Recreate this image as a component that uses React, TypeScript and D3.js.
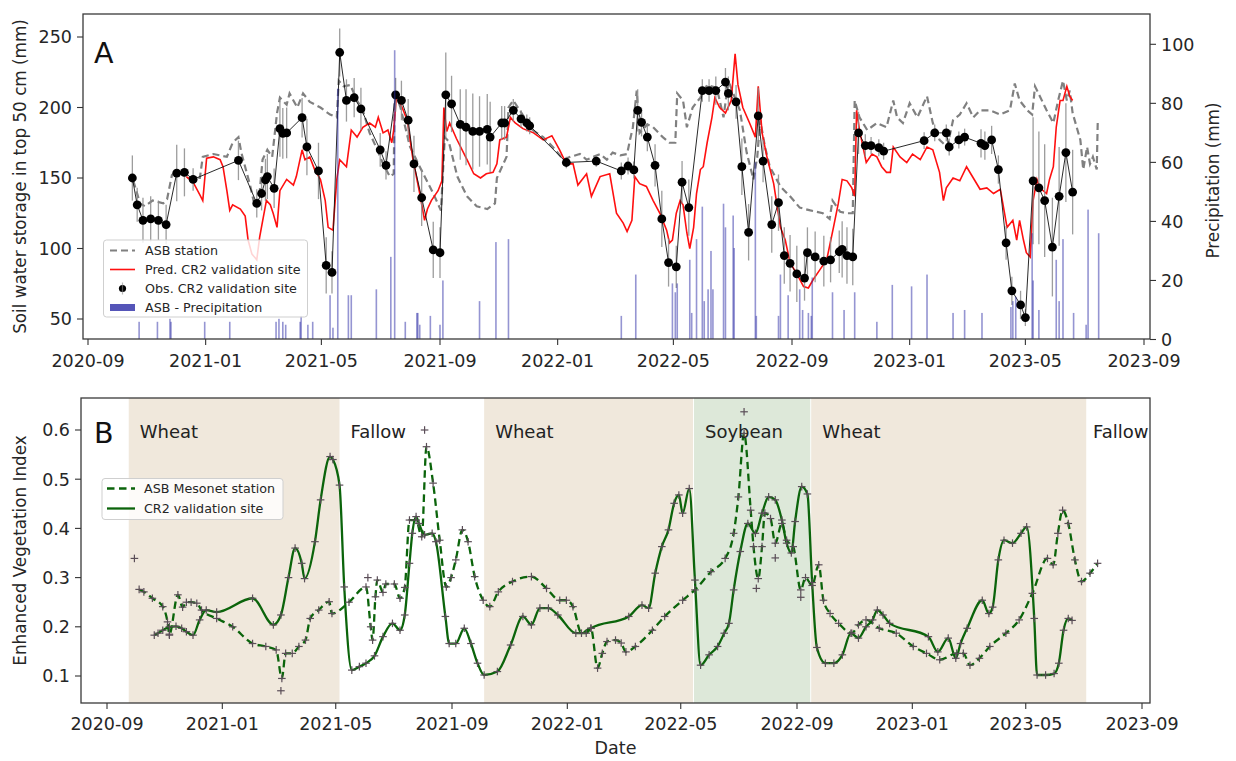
import React from "react";
import * as d3 from "d3";

const W = 1236;
const H = 761;
const FONT = "'DejaVu Sans', Verdana, sans-serif";

// ---------------- Panel A data ----------------
const asbDates = [
  "2020-10-18","2020-10-25","2020-10-30","2020-11-07","2020-11-18","2020-11-22","2020-11-27","2020-12-02","2020-12-13","2020-12-26",
  "2020-12-29","2021-01-09","2021-01-23","2021-01-29","2021-02-04","2021-02-07","2021-02-16","2021-02-21","2021-02-26","2021-03-01",
  "2021-03-06","2021-03-11","2021-03-16","2021-03-19","2021-03-26","2021-03-29","2021-04-06","2021-04-12","2021-04-19","2021-04-30",
  "2021-05-10","2021-05-17","2021-05-19","2021-05-24","2021-05-31","2021-06-07","2021-06-13","2021-06-20","2021-06-28","2021-07-04",
  "2021-07-11","2021-07-15","2021-07-16","2021-07-22","2021-08-01","2021-08-11","2021-08-25","2021-09-02","2021-09-06","2021-09-10",
  "2021-09-19","2021-09-29","2021-10-09","2021-10-20","2021-10-28","2021-10-30","2021-11-09","2021-11-11","2021-11-16","2021-12-06",
  "2021-12-17","2021-12-27","2022-01-07","2022-01-14","2022-01-24","2022-01-31","2022-02-14","2022-02-21","2022-02-27","2022-03-07",
  "2022-03-14","2022-03-17","2022-03-20","2022-03-24","2022-03-27","2022-04-04","2022-04-10","2022-04-20","2022-04-27","2022-05-03",
  "2022-05-05","2022-05-11","2022-05-15","2022-05-21","2022-05-29","2022-06-05","2022-06-15","2022-06-22","2022-06-27","2022-07-02",
  "2022-07-09","2022-07-16","2022-07-23","2022-07-27","2022-07-30","2022-08-04","2022-08-09","2022-08-20","2022-08-30","2022-09-09",
  "2022-09-20","2022-10-03","2022-10-10","2022-10-13","2022-10-21","2022-10-28","2022-11-03","2022-11-05","2022-11-10","2022-11-18",
  "2022-11-28","2022-12-08","2022-12-15","2022-12-19","2022-12-25","2023-01-01","2023-01-09","2023-01-19","2023-01-25","2023-02-01",
  "2023-02-09","2023-02-15","2023-02-22","2023-03-01","2023-03-08","2023-03-15","2023-03-25","2023-04-05","2023-04-15","2023-04-20",
  "2023-04-25","2023-05-03","2023-05-08","2023-05-11","2023-05-16","2023-05-23","2023-05-30","2023-06-04","2023-06-09","2023-06-13",
  "2023-06-16","2023-06-19","2023-06-27","2023-06-30","2023-07-04","2023-07-07","2023-07-10","2023-07-14","2023-07-15"
];
const asbSwc = [
  148,132,130,134,132,135,152,155,150,150,
  165,167,165,175,179,168,145,130,140,163,
  170,165,196,207,202,210,200,210,204,200,
  195,193,219,215,216,205,198,182,170,160,
  151,153,212,200,172,158,139,127,179,176,
  151,137,130,128,132,150,165,200,205,184,
  179,172,163,165,167,163,167,163,168,166,
  167,177,186,212,182,188,186,179,175,175,
  210,205,186,200,207,216,214,193,219,210,
  198,168,149,165,191,172,158,144,137,129,
  127,125,121,134,126,125,125,205,193,184,
  189,186,205,193,189,203,193,208,189,177,
  172,191,195,203,193,198,198,195,198,217,
  205,198,195,215,208,198,189,205,219,205,
  212,196,177,156,172,160,165,156,189
];

const predDates = [
  "2020-12-12","2020-12-19","2020-12-26","2020-12-29","2021-01-02","2021-01-09","2021-01-16","2021-01-19","2021-01-23","2021-01-26",
  "2021-01-29","2021-02-06","2021-02-11","2021-02-14","2021-02-18","2021-02-23","2021-02-26","2021-03-02","2021-03-05","2021-03-09",
  "2021-03-12","2021-03-16","2021-03-19","2021-03-26","2021-04-02","2021-04-05","2021-04-11","2021-04-14","2021-04-19","2021-04-24",
  "2021-04-30","2021-05-05","2021-05-08","2021-05-13","2021-05-17","2021-05-20","2021-05-27","2021-06-01","2021-06-07","2021-06-13",
  "2021-06-20","2021-06-26","2021-06-29","2021-07-04","2021-07-09","2021-07-13","2021-07-15","2021-07-18","2021-07-22","2021-07-29",
  "2021-08-04","2021-08-11","2021-08-16","2021-08-19","2021-08-23","2021-08-30","2021-09-03","2021-09-05","2021-09-08","2021-09-11",
  "2021-09-18","2021-09-29","2021-10-06","2021-10-13","2021-10-19","2021-10-26","2021-10-30","2021-11-02","2021-11-09","2021-11-13",
  "2021-11-18","2021-11-26","2021-12-07","2021-12-17","2021-12-26","2022-01-03","2022-01-10","2022-01-17","2022-01-22","2022-01-31",
  "2022-02-05","2022-02-14","2022-02-24","2022-03-03","2022-03-10","2022-03-14","2022-03-19","2022-03-22","2022-03-27","2022-04-03",
  "2022-04-10","2022-04-17","2022-04-24","2022-04-27","2022-04-30","2022-05-04","2022-05-08","2022-05-11","2022-05-15","2022-05-18",
  "2022-05-22","2022-05-25","2022-05-29","2022-06-01","2022-06-05","2022-06-10","2022-06-13","2022-06-18","2022-06-24","2022-06-30",
  "2022-07-04","2022-07-07","2022-07-12","2022-07-19","2022-07-25","2022-07-28","2022-08-01","2022-08-06","2022-08-13","2022-08-20",
  "2022-08-25","2022-08-30","2022-09-06","2022-09-13","2022-09-18","2022-09-23","2022-09-30","2022-10-07","2022-10-14","2022-10-19",
  "2022-10-23","2022-10-28","2022-11-02","2022-11-05","2022-11-07","2022-11-10","2022-11-17","2022-11-23","2022-11-28","2022-12-03",
  "2022-12-08","2022-12-12","2022-12-15","2022-12-22","2022-12-29","2023-01-04","2023-01-12","2023-01-19","2023-01-25","2023-02-01",
  "2023-02-05","2023-02-08","2023-02-15","2023-02-22","2023-03-01","2023-03-08","2023-03-15","2023-03-22","2023-03-29","2023-04-05",
  "2023-04-12","2023-04-18","2023-04-22","2023-04-25","2023-04-29","2023-05-02","2023-05-06","2023-05-09","2023-05-13","2023-05-16",
  "2023-05-23","2023-05-26","2023-05-30","2023-06-02","2023-06-06","2023-06-09","2023-06-13","2023-06-16","2023-06-19"
];
const predSwc = [
  151,147,138,134,164,165,163,158,141,127,
  131,128,123,106,96,92,108,123,134,131,
  125,115,141,149,145,151,170,163,165,156,
  149,134,115,113,149,163,158,184,179,186,
  189,186,193,182,184,175,184,210,203,191,
  163,139,120,128,134,141,148,200,183,189,
  178,163,153,150,153,154,160,177,179,193,
  189,185,182,177,180,170,160,160,145,153,
  137,151,153,125,118,112,120,151,146,144,
  134,125,113,104,106,125,134,131,111,100,
  115,139,156,158,175,193,207,200,196,205,
  238,216,200,189,179,215,182,165,146,115,
  106,90,82,73,72,78,85,92,115,132,
  149,148,143,137,198,184,161,167,165,158,
  154,154,172,165,161,167,163,172,170,154,
  134,143,150,148,158,150,142,143,139,142,
  115,120,106,120,106,97,94,134,149,143,
  139,149,158,186,205,205,215,208,205
];

const obsDates = [
  "2020-10-17","2020-10-22","2020-10-28","2020-11-05","2020-11-13","2020-11-21","2020-12-02","2020-12-10","2020-12-19","2021-02-04",
  "2021-02-23","2021-02-28","2021-03-04","2021-03-06","2021-03-13","2021-03-19","2021-03-22","2021-03-26","2021-04-11","2021-04-16",
  "2021-04-28","2021-05-06","2021-05-12","2021-05-20","2021-05-27","2021-06-04","2021-06-11","2021-07-01","2021-07-07","2021-07-17",
  "2021-07-23","2021-07-30","2021-08-05","2021-08-13","2021-08-25","2021-09-01","2021-09-07","2021-09-13","2021-09-22","2021-09-28",
  "2021-10-05","2021-10-12","2021-10-20","2021-10-23","2021-11-04","2021-11-07","2021-11-16","2021-11-24","2021-11-30","2021-12-03",
  "2022-01-10","2022-02-10","2022-03-08","2022-03-15","2022-03-21","2022-03-25","2022-03-29","2022-04-04","2022-04-12","2022-04-19",
  "2022-04-26","2022-05-04","2022-05-10","2022-05-17","2022-05-31","2022-06-07","2022-06-14","2022-06-24","2022-06-27","2022-07-05",
  "2022-07-11","2022-07-18","2022-07-28","2022-08-02","2022-08-11","2022-08-18","2022-08-24","2022-08-30","2022-09-06","2022-09-14",
  "2022-09-17","2022-09-25","2022-10-04","2022-10-11","2022-10-20","2022-10-23","2022-10-28","2022-11-03","2022-11-09","2022-11-16",
  "2022-11-22","2022-11-30","2022-12-05","2023-01-16","2023-01-27","2023-02-08","2023-02-11","2023-02-21","2023-02-27","2023-03-16",
  "2023-03-20","2023-03-27","2023-04-03","2023-04-11","2023-04-17","2023-04-26","2023-05-01","2023-05-09","2023-05-15","2023-05-21",
  "2023-05-29","2023-06-05","2023-06-12","2023-06-19"
];
const obsSwc = [
  150,131,120,121,120,117,153.5,154,149,162.5,
  132,139,148.6,151,142.7,185,181.7,182,192.8,172,
  155,88,83,239,205,207,199,170,159,209,
  205,191,160,136,99,97,209,202.5,188,186,
  183,183,184.5,179,189,189,198,192,189,187,
  161,162,155,158.5,155.7,198,189.5,179,159,121,
  90,87,147,129,212,212,212,218,210,204,
  158,111.5,194,162,117,132.5,95,89.5,82,79,
  97,94,91,92,97.7,99.4,95,94,182,173,
  173,171.5,169,176.5,182,182,172,177,179,174.6,
  173,177,156,104,70,60,51,148,143,134,
  101,137,168,140
];
const obsErr = [
  16,12,16,16,14,14,20,17,8,14,
  10,12,15,16,14,20,18,18,14,20,
  20,20,15,17,15,14,15,12,10,12,
  14,15,20,20,20,18,30,20,25,27,
  27,25,25,25,12,12,8,6,6,6,
  4,4,6,6,6,15,10,10,15,20,
  17,15,15,20,8,8,10,10,12,12,
  20,20,20,15,20,20,20,20,20,16,
  18,18,18,16,15,20,20,20,15,8,
  6,6,6,6,6,6,6,6,6,10,
  10,10,10,12,10,10,6,45,40,40,
  35,35,35,30
];

const precipDates = [
  "2020-10-24","2020-11-12","2020-11-25","2020-11-26","2020-12-31","2021-01-26","2021-03-15","2021-03-18","2021-03-22","2021-03-25",
  "2021-04-09","2021-04-10","2021-04-17","2021-04-22","2021-05-10","2021-05-13","2021-05-18","2021-05-29","2021-06-01","2021-06-27",
  "2021-07-12","2021-07-16","2021-07-27","2021-08-08","2021-08-09","2021-08-11","2021-08-22","2021-09-01","2021-09-04","2021-10-12",
  "2021-10-29","2021-11-11","2022-03-08","2022-03-23","2022-04-30","2022-05-03","2022-05-05","2022-05-18","2022-05-20","2022-05-25",
  "2022-05-31","2022-06-02","2022-06-06","2022-06-09","2022-06-11","2022-06-22","2022-06-24","2022-07-02","2022-07-03","2022-07-25",
  "2022-07-26","2022-08-18","2022-08-20","2022-08-28","2022-09-09","2022-09-12","2022-09-18","2022-09-21","2022-09-22","2022-10-13",
  "2022-10-25","2022-11-05","2022-11-28","2022-12-14","2023-01-03","2023-01-19","2023-02-15","2023-02-27","2023-03-17","2023-04-16",
  "2023-04-18","2023-04-21","2023-05-08","2023-05-09","2023-05-15","2023-06-02","2023-06-05","2023-06-09","2023-06-20","2023-07-03",
  "2023-07-05","2023-07-16"
];
const precipMm = [
  6,6,7,6,6,6,6,7,6,5,
  6,8,5,6,15,4,85,15,15,17,
  28,98,6,9,9,5,8,5,20,13,
  33,34,8,22,19,16,19,27,9,34,
  45,13,17,30,17,46,38,42,31,60,
  8,8,22,15,17,10,9,8,21,16,
  10,16,6,18.5,18,22,9,10,9,11,
  13,14.5,36,20,10,27,13,34,9,5,
  44,36
];

// ---------------- Panel B data ----------------
const cr2EviDates = [
  "2020-10-21","2020-10-25","2020-10-30","2020-11-06","2020-11-13","2020-11-19","2020-11-24","2020-12-01","2020-12-08","2020-12-15",
  "2020-12-26","2021-02-02","2021-02-24","2021-03-04","2021-03-12","2021-03-19","2021-03-26","2021-03-29","2021-04-09","2021-04-15",
  "2021-04-25","2021-04-28","2021-05-05","2021-05-10","2021-05-18","2021-05-26","2021-06-02","2021-06-11","2021-06-20","2021-06-30",
  "2021-07-08","2021-07-13","2021-07-18","2021-07-21","2021-07-25","2021-07-28","2021-08-03","2021-08-11","2021-08-15","2021-08-25",
  "2021-08-29","2021-09-05","2021-09-14","2021-09-21","2021-09-28","2021-10-05","2021-10-19","2021-11-02","2021-11-15","2021-11-24",
  "2021-12-03","2021-12-12","2021-12-22","2022-01-10","2022-01-21","2022-01-26","2022-03-07","2022-03-21","2022-03-28","2022-04-04",
  "2022-04-11","2022-04-18","2022-04-24","2022-04-29","2022-05-03","2022-05-10","2022-05-16","2022-05-22","2022-05-31","2022-06-09",
  "2022-06-16","2022-06-21","2022-06-26","2022-07-03","2022-07-11","2022-07-19","2022-07-26","2022-08-02","2022-08-09","2022-08-16",
  "2022-08-21","2022-08-26","2022-08-30","2022-09-06","2022-09-12","2022-09-17","2022-09-22","2022-10-01","2022-10-10","2022-10-19",
  "2022-10-28","2022-11-05","2022-11-13","2022-11-20","2022-11-25","2022-12-01","2022-12-08","2023-01-18","2023-01-28","2023-02-08",
  "2023-02-16","2023-02-21","2023-02-28","2023-03-16","2023-03-23","2023-03-27","2023-04-02","2023-04-08","2023-04-17","2023-04-26",
  "2023-05-02","2023-05-10","2023-05-13","2023-05-22","2023-05-31","2023-06-05","2023-06-10","2023-06-15","2023-06-19"
];
const cr2Evi = [
  0.183,0.187,0.193,0.2,0.201,0.197,0.19,0.183,0.214,0.234,
  0.23,0.258,0.204,0.224,0.3,0.36,0.329,0.298,0.373,0.458,
  0.546,0.54,0.488,0.281,0.112,0.119,0.126,0.141,0.18,0.207,
  0.193,0.224,0.329,0.39,0.424,0.41,0.387,0.39,0.373,0.221,
  0.166,0.166,0.197,0.166,0.126,0.102,0.109,0.163,0.221,0.204,
  0.238,0.238,0.224,0.187,0.187,0.197,0.221,0.244,0.238,0.309,
  0.363,0.397,0.451,0.468,0.431,0.481,0.295,0.122,0.143,0.16,
  0.187,0.207,0.275,0.353,0.41,0.39,0.431,0.464,0.458,0.417,
  0.37,0.35,0.414,0.485,0.47,0.29,0.158,0.126,0.126,0.143,
  0.187,0.177,0.2,0.214,0.234,0.224,0.207,0.18,0.149,0.177,
  0.136,0.166,0.197,0.254,0.227,0.24,0.336,0.376,0.37,0.39,
  0.403,0.217,0.102,0.102,0.105,0.126,0.193,0.217,0.213
];

const asbEviDates = [
  "2020-10-05","2020-10-10","2020-10-19","2020-10-30","2020-11-04","2020-11-06","2020-11-15","2020-11-20","2020-11-24","2020-11-29",
  "2020-12-05","2020-12-10","2020-12-26","2021-01-12","2021-02-02","2021-02-16","2021-02-27","2021-03-05","2021-03-09","2021-03-16",
  "2021-03-23","2021-03-30","2021-04-04","2021-04-13","2021-04-24","2021-04-27","2021-05-15","2021-06-02","2021-06-07","2021-06-09",
  "2021-06-12","2021-06-14","2021-06-20","2021-06-23","2021-07-02","2021-07-08","2021-07-13","2021-07-18","2021-07-25","2021-07-31",
  "2021-08-05","2021-08-12","2021-08-19","2021-08-26","2021-08-31","2021-09-05","2021-09-12","2021-09-18","2021-09-25","2021-10-04",
  "2021-10-11","2021-10-20","2021-11-04","2021-11-24","2021-12-10","2021-12-24","2021-12-31","2022-01-07","2022-01-16","2022-01-26",
  "2022-02-02","2022-02-07","2022-02-12","2022-02-21","2022-02-27","2022-03-04","2022-03-14","2022-04-01","2022-04-14","2022-05-03",
  "2022-05-16","2022-06-02","2022-06-17","2022-06-26","2022-07-01","2022-07-07","2022-07-14","2022-07-17","2022-07-22","2022-07-26",
  "2022-07-29","2022-08-04","2022-08-09","2022-08-16","2022-08-21","2022-08-28","2022-09-05","2022-09-10","2022-09-17","2022-09-24",
  "2022-09-29","2022-10-06","2022-10-15","2022-10-29","2022-11-05","2022-11-13","2022-11-27","2022-12-15","2023-01-02","2023-01-16",
  "2023-01-30","2023-02-17","2023-02-24","2023-03-03","2023-03-13","2023-03-24","2023-04-10","2023-04-24","2023-05-08","2023-05-24",
  "2023-05-30","2023-06-04","2023-06-09","2023-06-15","2023-06-22","2023-06-29","2023-07-08","2023-07-16"
];
const asbEvi = [
  0.276,0.271,0.258,0.241,0.21,0.185,0.265,0.24,0.25,0.25,
  0.248,0.234,0.217,0.2,0.166,0.16,0.153,0.095,0.146,0.146,
  0.16,0.173,0.217,0.234,0.251,0.227,0.25,0.281,0.2,0.173,
  0.261,0.295,0.27,0.287,0.287,0.258,0.28,0.417,0.417,0.383,
  0.566,0.492,0.376,0.281,0.3,0.336,0.397,0.373,0.302,0.254,
  0.241,0.271,0.292,0.302,0.278,0.254,0.254,0.241,0.187,0.197,
  0.116,0.146,0.17,0.173,0.167,0.149,0.16,0.193,0.221,0.254,
  0.275,0.312,0.339,0.39,0.464,0.593,0.437,0.363,0.298,0.363,
  0.431,0.42,0.37,0.41,0.376,0.363,0.275,0.3,0.284,0.326,
  0.254,0.227,0.207,0.187,0.204,0.214,0.197,0.187,0.16,0.146,
  0.133,0.146,0.146,0.122,0.136,0.16,0.187,0.214,0.268,0.339,
  0.326,0.39,0.437,0.41,0.336,0.292,0.309,0.329
];
// raw ASB observations that sit off the smoothed curve
const asbEviRawDates = ["2020-09-30","2020-11-06","2021-03-04","2021-06-04","2021-08-03","2022-07-07","2022-07-20","2022-08-09","2022-09-05"];
const asbEviRaw = [0.339,0.183,0.07,0.3,0.6,0.637,0.278,0.34,0.26];

const cropNames = ["Wheat","Fallow","Wheat","Soybean","Wheat","Fallow"];
const cropStart = ["2020-09-24","2021-05-05","2021-10-05","2022-05-15","2022-09-16","2023-07-04"];
const cropEnd = ["2021-05-05","2021-10-05","2022-05-14","2022-09-15","2023-07-04","2023-09-10"];

const xTickDates = ["2020-09-01","2021-01-01","2021-05-01","2021-09-01","2022-01-01","2022-05-01","2022-09-01","2023-01-01","2023-05-01","2023-09-01"];
const swcTicks = [50,100,150,200,250];
const precipTicks = [0,20,40,60,80,100];
const eviTicks = [0.1,0.2,0.3,0.4,0.5,0.6];

// ---------------- layout ----------------
const A = { left: 83, right: 1150, top: 14, bottom: 339 };
const B = { left: 81, right: 1150, top: 398, bottom: 703 };

const parse = d3.timeParse("%Y-%m-%d");
const fmt = d3.timeFormat("%Y-%m");

const xA = d3.scaleTime().domain([parse("2020-09-01")!, parse("2023-09-01")!]).range([88, 1144]);
const xB = d3.scaleTime().domain([parse("2020-09-01")!, parse("2023-09-01")!]).range([107, 1142]);
const yA = d3.scaleLinear().domain([50, 250]).range([319, 37]);
const yP = d3.scaleLinear().domain([0, 100]).range([339.5, 44.3]);
const yB = d3.scaleLinear().domain([0.1, 0.6]).range([676, 430]);

const TEXT = "#262626";
const FS = 17.5;

const WHEAT_FILL = "rgb(240,232,220)";
const SOY_FILL = "rgb(221,232,217)";
const EVI_GREEN = "#0b640b";
const PRECIP_BLUE = "#2b2ba6";

function zip(dates: string[], vals: number[]) {
  return dates.map((d, i) => ({ d: parse(d)!, v: vals[i] }));
}

function Plus({ x, y }: { x: number; y: number }) {
  const s = 3.8;
  return (
    <g stroke="#5a4d57" strokeWidth={1.2}>
      <line x1={x - s} x2={x + s} y1={y} y2={y} />
      <line x1={x} x2={x} y1={y - s} y2={y + s} />
    </g>
  );
}

export default function App() {
  const asb = zip(asbDates, asbSwc);
  const pred = zip(predDates, predSwc);
  const obs = obsDates.map((d, i) => ({ d: parse(d)!, v: obsSwc[i], e: obsErr[i] }));
  const precip = zip(precipDates, precipMm);
  const cr2 = zip(cr2EviDates, cr2Evi);
  const asbE = zip(asbEviDates, asbEvi);
  const asbRaw = zip(asbEviRawDates, asbEviRaw);

  const lineA = d3.line<{ d: Date; v: number }>().x((p) => xA(p.d)).y((p) => yA(p.v));
  const lineB = d3
    .line<{ d: Date; v: number }>()
    .x((p) => xB(p.d))
    .y((p) => yB(p.v))
    .curve(d3.curveMonotoneX);

  const ticks = xTickDates.map((d) => parse(d)!);

  return (
    <svg
      width={W}
      height={H}
      style={{ position: "absolute", left: 0, top: 0, background: "#fff" }}
      fontFamily={FONT}
    >
      <defs>
        <clipPath id="clipA">
          <rect x={A.left} y={A.top} width={A.right - A.left} height={A.bottom - A.top} />
        </clipPath>
        <clipPath id="clipB">
          <rect x={B.left} y={B.top} width={B.right - B.left} height={B.bottom - B.top} />
        </clipPath>
      </defs>
      <rect x={0} y={0} width={W} height={H} fill="#fff" />

      {/* ================= Panel A ================= */}
      <g clipPath="url(#clipA)">
        {/* ASB station */}
        <path d={lineA(asb) || ""} fill="none" stroke="#808080" strokeWidth={2.2} strokeDasharray="7,4" />
        {/* Pred */}
        <path d={lineA(pred) || ""} fill="none" stroke="#ff1010" strokeWidth={1.6} />
        {/* error bars */}
        {obs.map((o, i) => (
          <line
            key={"e" + i}
            x1={xA(o.d)}
            x2={xA(o.d)}
            y1={yA(o.v - o.e)}
            y2={yA(o.v + o.e)}
            stroke="#8c8c8c"
            strokeWidth={1.3}
            opacity={0.85}
          />
        ))}
        <path d={lineA(obs) || ""} fill="none" stroke="#111" strokeWidth={0.9} />
        {obs.map((o, i) => (
          <circle key={"o" + i} cx={xA(o.d)} cy={yA(o.v)} r={4.4} fill="#000" />
        ))}
        {/* precipitation bars (right axis) */}
        {precip.map((p, i) => (
          <rect
            key={"p" + i}
            x={xA(p.d) - 0.8}
            width={1.6}
            y={yP(p.v)}
            height={yP(0) - yP(p.v)}
            fill={PRECIP_BLUE}
            opacity={0.5}
          />
        ))}
      </g>
      <rect x={A.left} y={A.top} width={A.right - A.left} height={A.bottom - A.top} fill="none" stroke="#3a3a3a" strokeWidth={1.3} />
      {/* left y axis */}
      {swcTicks.map((t) => (
        <g key={"ya" + t}>
          <line x1={A.left - 6} x2={A.left} y1={yA(t)} y2={yA(t)} stroke="#333" strokeWidth={1.1} />
          <text x={A.left - 11} y={yA(t)} dy="0.36em" textAnchor="end" fontSize={FS} fill={TEXT}>
            {t}
          </text>
        </g>
      ))}
      {/* right y axis */}
      {precipTicks.map((t) => (
        <g key={"yp" + t}>
          <line x1={A.right} x2={A.right + 6} y1={yP(t)} y2={yP(t)} stroke="#333" strokeWidth={1.1} />
          <text x={A.right + 11} y={yP(t)} dy="0.36em" textAnchor="start" fontSize={FS} fill={TEXT}>
            {t}
          </text>
        </g>
      ))}
      {/* x axis A */}
      {ticks.map((t, i) => (
        <g key={"xa" + i}>
          <line x1={xA(t)} x2={xA(t)} y1={A.bottom} y2={A.bottom + 6} stroke="#333" strokeWidth={1.1} />
          <text x={xA(t)} y={367} textAnchor="middle" fontSize={FS} fill={TEXT}>
            {fmt(t)}
          </text>
        </g>
      ))}
      <text transform={`translate(26,${(A.top + A.bottom) / 2}) rotate(-90)`} textAnchor="middle" fontSize={16.8} fill={TEXT}>
        Soil water storage in top 50 cm (mm)
      </text>
      <text transform={`translate(1219,${(A.top + A.bottom) / 2 + 4}) rotate(-90)`} textAnchor="middle" fontSize={16.8} fill={TEXT}>
        Precipitation (mm)
      </text>
      <text x={94} y={63} fontSize={28.5} fill="#111">A</text>

      {/* legend A */}
      <g>
        <rect x={103.5} y={240} width={204} height={77} rx={3} fill="#fff" fillOpacity={0.82} stroke="#cfcfcf" strokeWidth={1} />
        <line x1={110} x2={135} y1={250.5} y2={250.5} stroke="#808080" strokeWidth={2.2} strokeDasharray="7,4" />
        <line x1={110} x2={135} y1={269.5} y2={269.5} stroke="#ff1010" strokeWidth={1.6} />
        <circle cx={122.5} cy={288.5} r={3.6} fill="#000" />
        <line x1={122.5} x2={122.5} y1={282.5} y2={294.5} stroke="#8c8c8c" strokeWidth={1.2} opacity={0.6} />
        <rect x={110} y={304} width={25} height={7} fill={PRECIP_BLUE} opacity={0.8} />
        {["ASB station", "Pred. CR2 validation site", "Obs. CR2 validation site", "ASB - Precipitation"].map((s, i) => (
          <text key={s} x={145} y={250.5 + i * 19} dy="0.36em" fontSize={12.7} fill={TEXT}>
            {s}
          </text>
        ))}
      </g>

      {/* ================= Panel B ================= */}
      <g clipPath="url(#clipB)">
        {cropNames.map((c, i) =>
          c === "Fallow" ? null : (
            <rect
              key={"band" + i}
              x={xB(parse(cropStart[i])!)}
              y={B.top}
              width={xB(parse(cropEnd[i])!) - xB(parse(cropStart[i])!)}
              height={B.bottom - B.top}
              fill={c === "Soybean" ? SOY_FILL : WHEAT_FILL}
            />
          )
        )}
        <path d={lineB(asbE) || ""} fill="none" stroke={EVI_GREEN} strokeWidth={2.3} strokeDasharray="7.5,4.5" />
        <path d={lineB(cr2) || ""} fill="none" stroke={EVI_GREEN} strokeWidth={2.3} />
        {asbE.concat(asbRaw).map((p, i) => (
          <Plus key={"pa" + i} x={xB(p.d)} y={yB(p.v)} />
        ))}
        {cr2.map((p, i) => (
          <Plus key={"pc" + i} x={xB(p.d)} y={yB(p.v)} />
        ))}
      </g>
      {cropNames.map((c, i) => (
        <text
          key={"lab" + i}
          x={Math.min(xB(parse(cropStart[i])!) + 11, 1093)}
          y={438}
          fontSize={18}
          fill="#222"
        >
          {c}
        </text>
      ))}
      <rect x={B.left} y={B.top} width={B.right - B.left} height={B.bottom - B.top} fill="none" stroke="#3a3a3a" strokeWidth={1.3} />
      {eviTicks.map((t) => (
        <g key={"yb" + t}>
          <line x1={B.left - 6} x2={B.left} y1={yB(t)} y2={yB(t)} stroke="#333" strokeWidth={1.1} />
          <text x={B.left - 11} y={yB(t)} dy="0.36em" textAnchor="end" fontSize={FS} fill={TEXT}>
            {t.toFixed(1)}
          </text>
        </g>
      ))}
      {ticks.map((t, i) => (
        <g key={"xb" + i}>
          <line x1={xB(t)} x2={xB(t)} y1={B.bottom} y2={B.bottom + 6} stroke="#333" strokeWidth={1.1} />
          <text x={xB(t)} y={730} textAnchor="middle" fontSize={FS} fill={TEXT}>
            {fmt(t)}
          </text>
        </g>
      ))}
      <text x={(B.left + B.right) / 2 + 0} y={754} textAnchor="middle" fontSize={FS} fill={TEXT}>
        Date
      </text>
      <text transform={`translate(26,${(B.top + B.bottom) / 2}) rotate(-90)`} textAnchor="middle" fontSize={16.8} fill={TEXT}>
        Enhanced Vegetation Index
      </text>
      <text x={94} y={443} fontSize={28.5} fill="#111">B</text>

      {/* legend B */}
      <g>
        <rect x={102} y={478.5} width={181} height={41} rx={3} fill="#fff" fillOpacity={0.82} stroke="#cfcfcf" strokeWidth={1} />
        <line x1={107} x2={135} y1={488.5} y2={488.5} stroke={EVI_GREEN} strokeWidth={2.3} strokeDasharray="7.5,4.5" />
        <line x1={107} x2={135} y1={508.5} y2={508.5} stroke={EVI_GREEN} strokeWidth={2.3} />
        <text x={144} y={488.5} dy="0.36em" fontSize={12.7} fill={TEXT}>ASB Mesonet station</text>
        <text x={144} y={508.5} dy="0.36em" fontSize={12.7} fill={TEXT}>CR2 validation site</text>
      </g>
    </svg>
  );
}
